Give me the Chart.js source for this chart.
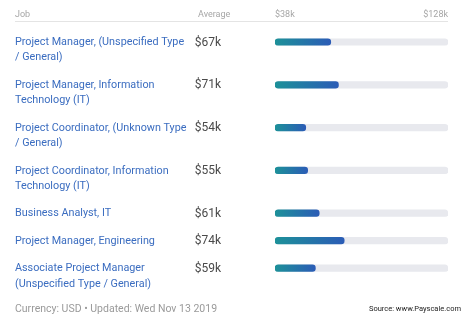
<!DOCTYPE html>
<html>
<head>
<meta charset="utf-8">
<script src="https://cdn.jsdelivr.net/npm/chart.js@4.4.1/dist/chart.umd.min.js"></script>
<style>
  html, body { margin: 0; padding: 0; background: #ffffff; }
  #wrap { width: 474px; height: 322px; position: relative; }
</style>
</head>
<body>
<div id="wrap"><canvas id="c" width="474" height="322"></canvas></div>
<script>
// ---- data ----
const jobs = [
  ["Project Manager, (Unspecified Type", "/ General)"],
  ["Project Manager, Information", "Technology (IT)"],
  ["Project Coordinator, (Unknown Type", "/ General)"],
  ["Project Coordinator, Information", "Technology (IT)"],
  ["Business Analyst, IT"],
  ["Project Manager, Engineering"],
  ["Associate Project Manager", "(Unspecified Type / General)"]
];
const averages = [67, 71, 54, 55, 61, 74, 59];           // $k
const averageLabels = ["$67k", "$71k", "$54k", "$55k", "$61k", "$74k", "$59k"];
const scaleMin = 38;
const scaleMax = 128;
const scaleLabels = ["$38k", "$128k"];
const headers = ["Job", "Average"];
const footerLeft = "Currency: USD \u2022 Updated: Wed Nov 13 2019";
const footerRight = "Source: www.Payscale.com";

// ---- layout helpers (row positions follow label line counts) ----
const LINE = 15.3, GAP = 27.5, FIRST = 42;
const rowPos = [];
{ let p = 0; jobs.forEach((l, i) => { rowPos.push(p); p += (l.length - 1) * LINE + GAP; }); }

const FONT = "Roboto, 'Helvetica Neue', Arial, sans-serif";

const textPlugin = {
  id: 'tableText',
  afterDraw(chart) {
    const ctx = chart.ctx, xs = chart.scales.x, ys = chart.scales.y;
    ctx.save();
    // header
    ctx.font = "9px " + FONT;
    ctx.fillStyle = "#a6a6a6";
    ctx.textBaseline = "middle";
    ctx.textAlign = "left";
    ctx.fillText(headers[0], 15, 15);
    ctx.fillText(headers[1], 198, 15);
    ctx.fillText(scaleLabels[0], xs.getPixelForValue(scaleMin), 15);
    ctx.textAlign = "right";
    ctx.fillText(scaleLabels[1], xs.getPixelForValue(scaleMax), 15);
    ctx.strokeStyle = "#e4e4e4";
    ctx.lineWidth = 1;
    ctx.beginPath(); ctx.moveTo(15, 21.5); ctx.lineTo(xs.getPixelForValue(scaleMax), 21.5); ctx.stroke();
    // rows
    jobs.forEach((lines, i) => {
      const y = ys.getPixelForValue(rowPos[i]) + 0.5;
      ctx.font = "10.8px " + FONT;
      ctx.textAlign = "left";
      ctx.fillStyle = "#3b6dc0";
      lines.forEach((t, k) => ctx.fillText(t, 15, y + k * LINE));
      ctx.textAlign = "right";
      ctx.font = "12px " + FONT;
      ctx.fillStyle = "#4a4a4a";
      ctx.fillText(averageLabels[i], 221, y);
    });
    // footer
    ctx.textAlign = "left";
    ctx.font = "10.5px " + FONT;
    ctx.fillStyle = "#9a9a9a";
    ctx.fillText(footerLeft, 15, 309);
    ctx.textAlign = "right";
    ctx.font = "7.5px " + FONT;
    ctx.fillStyle = "#222222";
    ctx.fillText(footerRight, 461, 309);
    ctx.restore();
  }
};

const gradientFill = (c) => {
  const chart = c.chart;
  if (!chart.chartArea || c.dataIndex === undefined) return '#2a6db5';
  const xs = chart.scales.x;
  const x0 = xs.getPixelForValue(scaleMin);
  const x1 = xs.getPixelForValue(averages[c.dataIndex]);
  const g = chart.ctx.createLinearGradient(x0, 0, x1, 0);
  g.addColorStop(0, '#1d9199');
  g.addColorStop(1, '#2b5cb6');
  return g;
};

new Chart(document.getElementById('c'), {
  type: 'bar',
  data: {
    datasets: [
      {
        label: 'Average',
        data: averages.map((v, i) => ({ x: [scaleMin, v], y: rowPos[i] })),
        backgroundColor: gradientFill,
        borderRadius: 4,
        borderSkipped: false,
        barThickness: 6.5,
        grouped: false,
        order: 0
      },
      {
        label: 'Range',
        data: averages.map((v, i) => ({ x: [scaleMin, scaleMax], y: rowPos[i] })),
        backgroundColor: '#e8e9ee',
        borderRadius: 4,
        borderSkipped: false,
        barThickness: 6.5,
        grouped: false,
        order: 1
      }
    ]
  },
  options: {
    indexAxis: 'y',
    responsive: false,
    animation: false,
    devicePixelRatio: 1,
    layout: { padding: { left: 275, right: 26, top: 0, bottom: 0 } },
    plugins: { legend: { display: false }, tooltip: { enabled: false } },
    scales: {
      x: { type: 'linear', min: scaleMin, max: scaleMax, display: false, offset: false },
      y: { type: 'linear', min: -FIRST, max: 322 - FIRST, reverse: true, display: false, offset: false }
    }
  },
  plugins: [textPlugin]
});
</script>
</body>
</html>
